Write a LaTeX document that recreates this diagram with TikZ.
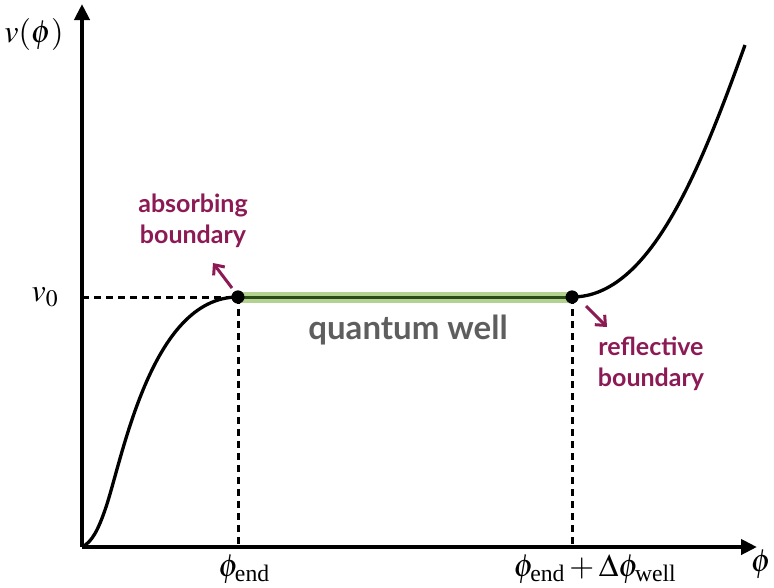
\documentclass[tikz,border=0pt]{standalone}
\usepackage{amsmath}
\usepackage{mathptmx}
\usepackage[no-math]{fontspec}
\setmainfont{Liberation Serif}
\setsansfont{Lato}
\usepackage{tikz}
\usetikzlibrary{arrows.meta,positioning,calc}
\definecolor{WellMaroon}{HTML}{8C1A55}
\definecolor{WellGray}{HTML}{5E5E5E}
\definecolor{WellLightGreen}{HTML}{B3D190}
\definecolor{WellDarkGreen}{HTML}{2A4A18}

\begin{document}
\begin{tikzpicture}[x=1pt,y=-1pt,
    axis/.style={line width=4pt,-{Triangle[length=16pt,width=15pt]}},
    guide/.style={line width=3pt,dash pattern=on 7pt off 5pt},
    curve/.style={line width=3.3pt},
    dot/.style={circle,fill=black,inner sep=0pt,minimum size=13pt},
    lbl/.style={font=\fontsize{32}{34}\selectfont,inner sep=1pt},
    note/.style={font=\sffamily\bfseries\fontsize{25}{31}\selectfont,text=WellMaroon,align=center},
    pointer/.style={WellMaroon,line width=3pt,-{Straight Barb[length=8pt,width=14pt]}}
  ]
    \useasboundingbox (0,0) rectangle (774,587);
    \coordinate (o) at (82,547);
    \coordinate (ytop) at (82,4);
    \coordinate (xend) at (757,547);
    \coordinate (vleft) at (82,297);
    \node[dot] (pa) at (238,297) {};
    \node[dot] (pb) at (572,297) {};
    \coordinate (pafoot) at (238,547);
    \coordinate (pbfoot) at (572,547);
    % well
    \draw[WellLightGreen,line width=11pt] (pa.center) -- (pb.center);
    \draw[WellDarkGreen,line width=3pt] (pa.center) -- (pb.center);
    % guides
    \draw[guide] (vleft) -- (pa.center);
    \draw[guide] (pa.center) -- (pafoot);
    \draw[guide] (pb.center) -- (pbfoot);
    % potential
    \draw[curve] (o) .. controls (92,542) and (98,530) .. (105,510)
      .. controls (122,462) and (150,297) .. (pa.center);
    \draw[curve] (pb.center) .. controls (650,297) and (700,170) .. (745,45);
    % axes
    \draw[axis] (o) -- (ytop);
    \draw[axis] (o) -- (xend);
    \node[dot] at (pa) {};
    \node[dot] at (pb) {};
    % labels
    \node[lbl] (vlab) at (34,34) {$v(\phi)$};
    \node[lbl] (v0lab) at (45,297) {$v_0$};
    \node[lbl] (endlab) at (244,569) {$\phi_{\text{end}}$};
    \node[lbl] (welllab) at (595,569) {$\phi_{\text{end}}+\Delta\phi_{\text{well}}$};
    \node[lbl] (philab) at (761,564) {$\phi$};
    \node[font=\sffamily\bfseries\fontsize{33}{36}\selectfont,text=WellGray] (qw) at (408,330) {quantum well};
    \node[note] (abs) at (193,221) {absorbing\\boundary};
    \node[note] (refl) at (651,364) {reflective\\boundary};
    \coordinate (absarr) at (213,263);
    \coordinate (reflarr) at (607,327);
    \draw[pointer] ($(pa)+(-6,-9)$) -- (absarr);
    \draw[pointer] ($(pb)+(14,9)$) -- (reflarr);
  \end{tikzpicture}
\end{document}
